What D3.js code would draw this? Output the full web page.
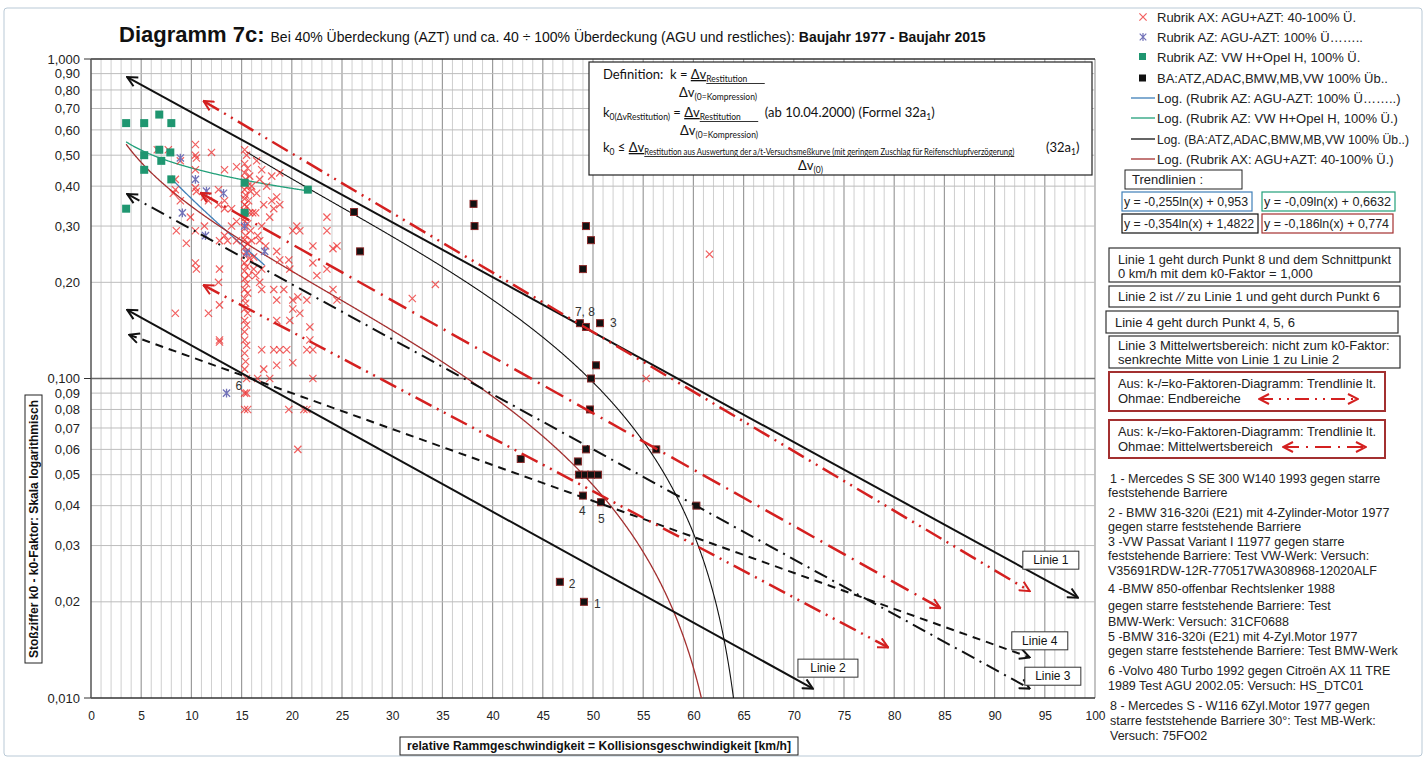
<!DOCTYPE html>
<html>
<head>
<meta charset="utf-8">
<script src="https://cdn.jsdelivr.net/npm/d3@7"></script>
<style>
  body { margin: 0; background: #fff; }
  svg { font-family: Arial, "Liberation Sans", sans-serif; }
</style>
</head>
<body>
<div id="chart"></div>
<script>
// axis values
const xTickVals = [0,5,10,15,20,25,30,35,40,45,50,55,60,65,70,75,80,85,90,95,100];
const yTickVals = [1,0.9,0.8,0.7,0.6,0.5,0.4,0.3,0.2,0.1,0.09,0.08,0.07,0.06,0.05,0.04,0.03,0.02,0.01];
const yTickText = ["1,000","0,90","0,80","0,70","0,60","0,50","0,40","0,30","0,20","0,100","0,09","0,08","0,07","0,06","0,05","0,04","0,03","0,02","0,010"];

// Rubrik AX: AGU+AZT 40-100% (red crosses)
const redX = [
  [15.3,0.52],[15.5,0.50],[15.3,0.47],[15.6,0.455],[15.3,0.44],[15.8,0.43],[15.4,0.42],[15.3,0.41],[15.6,0.40],[15.3,0.39],
  [15.9,0.385],[15.4,0.375],[15.3,0.365],[15.7,0.36],[15.3,0.35],[15.5,0.345],[15.3,0.335],[15.8,0.33],[15.4,0.32],[15.3,0.31],
  [15.6,0.305],[15.3,0.295],[15.9,0.29],[15.4,0.28],[15.3,0.272],[15.6,0.265],[15.3,0.258],[15.5,0.25],[15.3,0.243],[15.8,0.238],
  [15.3,0.23],[15.5,0.224],[15.3,0.217],[15.7,0.21],[15.3,0.205],[15.5,0.198],[15.3,0.19],[15.6,0.185],[15.3,0.178],[15.4,0.172],
  [15.3,0.165],[15.6,0.16],[15.3,0.152],[15.5,0.147],[15.3,0.14],[15.3,0.132],[15.5,0.127],[15.3,0.12],[15.4,0.113],[15.3,0.107],
  [15.5,0.10],[15.3,0.09],[15.5,0.09],[15.3,0.08],[16.0,0.40],[16.1,0.33],[16.0,0.27],[16.2,0.22],
  [6.6,0.52],[7.7,0.52],[8.4,0.42],[8.4,0.39],[8.9,0.48],[10.4,0.54],[10.4,0.50],[10.5,0.49],[10.4,0.45],[12.0,0.51],
  [10.4,0.395],[10.5,0.385],[11.3,0.37],[12.7,0.39],[13.3,0.36],[14.0,0.34],[14.5,0.31],[13.3,0.45],[14.5,0.46],[18.8,0.44],
  [18.5,0.37],[18.0,0.36],[18.2,0.34],[18.8,0.35],[17.8,0.32],[20.5,0.30],[20.8,0.29],[20.1,0.29],[23.5,0.32],[23.5,0.29],
  [22.1,0.26],[24.5,0.26],[24.1,0.255],[18.5,0.25],[18.8,0.235],[19.7,0.235],[19.8,0.22],[22.1,0.23],[23.5,0.22],[22.5,0.21],
  [24.1,0.19],[24.5,0.176],[8.5,0.29],[9.9,0.32],[9.5,0.265],[10.4,0.29],[10.4,0.23],[10.5,0.22],[12.8,0.27],[13.3,0.28],
  [13.6,0.27],[14.0,0.30],[14.5,0.27],[11.3,0.30],[8.2,0.38],[8.9,0.36],[11.7,0.36],[12.7,0.35],[13.3,0.34],
  [16.5,0.48],[17.0,0.45],[16.8,0.42],[17.5,0.40],[18.0,0.43],[16.5,0.38],[17.2,0.35],[16.4,0.33],[17.0,0.30],[16.6,0.28],
  [17.4,0.26],[16.2,0.24],[17.0,0.22],[16.4,0.21],[16.8,0.27],
  [8.4,0.16],[11.7,0.16],[12.8,0.17],[12.8,0.13],[12.7,0.20],[12.8,0.22],[16.8,0.20],[17.0,0.19],[18.2,0.19],[18.5,0.176],
  [19.2,0.19],[20.1,0.176],[20.6,0.18],[21.5,0.176],[20.1,0.165],[18.5,0.152],[19.8,0.152],[20.8,0.16],[21.8,0.145],[17.0,0.123],
  [18.2,0.123],[18.8,0.123],[19.5,0.123],[21.5,0.123],[22.1,0.123],[18.5,0.11],[20.1,0.112],[21.8,0.132],[12.8,0.132],[22.1,0.10],
  [19.7,0.08],[21.5,0.08],[16.6,0.10],[17.8,0.10],[17.2,0.107],[20.6,0.06],[21.2,0.08],[15.6,0.08],
  [34.3,0.197],[32.0,0.178],[55.3,0.10],[61.6,0.245]
];

// Rubrik AZ: AGU-AZT 100% (blue asterisks)
const blueAst = [[8.9,0.49],[10.4,0.42],[11.5,0.386],[13.2,0.38],[9.1,0.33],[11.4,0.28],[15.3,0.30],[17.3,0.25],[15.5,0.247],[13.5,0.09]];

// Rubrik AZ: VW H+Opel H (green squares)
const greenSq = [[3.5,0.63],[5.3,0.63],[6.8,0.67],[8.0,0.63],[6.8,0.52],[7.9,0.51],[5.3,0.50],[7.0,0.48],[5.3,0.45],[8.0,0.42],
  [3.5,0.34],[15.3,0.41],[15.3,0.33],[21.6,0.39]];

// BA:ATZ,ADAC,BMW,MB,VW (black squares)
const blackSq = [[26.2,0.332],[26.8,0.25],[38.1,0.352],[38.2,0.30],[49.3,0.30],[49.8,0.271],[49.0,0.22],[48.7,0.149],[49.3,0.145],
  [50.7,0.149],[50.3,0.110],[49.8,0.100],[49.7,0.080],[49.3,0.060],[42.8,0.056],[48.5,0.055],[48.6,0.050],[49.2,0.050],[49.8,0.050],
  [50.5,0.050],[49.0,0.043],[50.8,0.041],[56.3,0.060],[60.3,0.040],[46.7,0.0231],[49.1,0.020]];

// numbered test points
const ptLabels = ["1","2","3","4","5","6","7, 8"];
const ptLabelAt = [[49.1,0.020],[46.7,0.0231],[50.7,0.149],[49.0,0.043],[50.8,0.041],[15.3,0.10],[48.7,0.149]];

// log trendlines y = a ln(x) + b
const trendNames = ["Log. (Rubrik AZ: AGU-AZT: 100% Ü……..)","Log. (Rubrik AZ: VW H+Opel H, 100% Ü.)","Log. (BA:ATZ,ADAC,BMW,MB,VW  100% Üb..)","Log. (Rubrik AX: AGU+AZT: 40-100% Ü.)"];
const trendA = [-0.255,-0.09,-0.354,-0.186];
const trendB = [0.953,0.6632,1.4822,0.774];
const trendFrom = [8.0,3.5,15.5,3.5];
const trendTo = [17.3,21.6,64.1,60.9];
const trendEq = ["y = -0,255ln(x) + 0,953","y = -0,09ln(x) + 0,6632","y = -0,354ln(x) + 1,4822","y = -0,186ln(x) + 0,774"];

// drawn reference lines (start, end)
const refNames = ["Linie 1","Linie 2","Linie 3","Linie 4","Ohmae oben","Ohmae Mitte","Ohmae unten"];
const refStart = [[3.6,0.878],[3.6,0.164],[3.6,0.378],[3.8,0.137],[11.2,0.739],[10.9,0.381],[11.2,0.196]];
const refEnd = [[98.3,0.0206],[71.9,0.0107],[93.5,0.0107],[93.5,0.0134],[93.5,0.0216],[84.6,0.0191],[79.4,0.0144]];
const refLabelAt = [[95.6,0.027],[73.4,0.0124],[95.8,0.0117],[94.5,0.0151],null,null,null];

const legendNames = ["Rubrik AX: AGU+AZT: 40-100% Ü.","Rubrik AZ: AGU-AZT: 100% Ü……..","Rubrik AZ: VW H+Opel H, 100% Ü.","BA:ATZ,ADAC,BMW,MB,VW 100% Üb.."];

const noteLines = [
  "1 - Mercedes S SE 300 W140 1993 gegen  starre","feststehende Barriere",
  "2 - BMW 316-320i (E21) mit 4-Zylinder-Motor 1977","gegen starre feststehende Barriere",
  "3 -VW Passat Variant I 11977  gegen starre","feststehende Barriere: Test VW-Werk: Versuch:","V35691RDW-12R-770517WA308968-12020ALF",
  "4 -BMW 850-offenbar Rechtslenker 1988","gegen starre feststehende Barriere: Test","BMW-Werk: Versuch: 31CF0688",
  "5 -BMW 316-320i (E21) mit 4-Zyl.Motor 1977","gegen starre feststehende Barriere: Test BMW-Werk",
  "6 -Volvo 480 Turbo 1992 gegen Citroën AX 11 TRE","1989  Test AGU 2002.05: Versuch: HS_DTC01",
  "8 - Mercedes S - W116 6Zyl.Motor 1977 gegen","starre feststehende Barriere 30°: Test MB-Werk:","Versuch: 75FO02"
];
const noteY = [479,493,513,527,542,556,571,589,606,622,637,651,671,686,706,721,736];

const W = 1428, H = 760;
const svg = d3.select("#chart").append("svg").attr("width", W).attr("height", H);

const x = d3.scaleLinear().domain([0, 100]).range([91, 1095]);
const y = d3.scaleLog().domain([0.01, 1]).range([698, 59]);

const RED = "#d42020", DKRED = "#a33030";

// squeeze a text into max width if needed
function fit(sel, max) {
  const w = sel.node().getComputedTextLength();
  if (w > max) sel.attr("textLength", max).attr("lengthAdjust", "spacingAndGlyphs");
  return sel;
}

// outer frame
svg.append("rect").attr("x", 4).attr("y", 8).attr("width", 1418).attr("height", 748)
  .attr("fill", "#fff").attr("stroke", "#b9c9d6").attr("rx", 3);

const defs = svg.append("defs");
defs.append("clipPath").attr("id", "plotClip").append("rect")
  .attr("x", 91).attr("y", 59).attr("width", 1004).attr("height", 639);
[["arrBlack", "#111"], ["arrRed", RED]].forEach(([id, c]) => {
  defs.append("marker").attr("id", id).attr("viewBox", "0 0 12 12")
    .attr("refX", 11).attr("refY", 6).attr("markerWidth", 12).attr("markerHeight", 12)
    .attr("markerUnits", "userSpaceOnUse").attr("orient", "auto-start-reverse")
    .append("path").attr("d", "M1,1 L11,6 L1,11").attr("fill", "none")
    .attr("stroke", c).attr("stroke-width", 2);
});

// grid
const grid = svg.append("g");
grid.selectAll(".vmin").data(d3.range(1, 100).filter(d => d % 5 !== 0)).join("line")
  .attr("x1", d => x(d)).attr("x2", d => x(d)).attr("y1", 59).attr("y2", 698)
  .attr("stroke", "#cfcfcf").attr("stroke-width", 1);
grid.selectAll(".vmaj").data(xTickVals.filter(d => d > 0)).join("line")
  .attr("x1", d => x(d)).attr("x2", d => x(d)).attr("y1", 59).attr("y2", 698)
  .attr("stroke", "#9c9c9c").attr("stroke-width", 1.2);
grid.selectAll(".hmin").data(yTickVals.filter(d => d !== 1 && d !== 0.1 && d !== 0.01)).join("line")
  .attr("x1", 91).attr("x2", 1095).attr("y1", d => y(d)).attr("y2", d => y(d))
  .attr("stroke", "#bdbdbd").attr("stroke-width", 1);
grid.append("line").attr("x1", 91).attr("x2", 1095).attr("y1", y(0.1)).attr("y2", y(0.1))
  .attr("stroke", "#666").attr("stroke-width", 1.5);
grid.append("line").attr("x1", 91).attr("x2", 1095).attr("y1", y(1)).attr("y2", y(1))
  .attr("stroke", "#333").attr("stroke-width", 1.5);
grid.append("line").attr("x1", 91).attr("x2", 1095).attr("y1", y(0.01)).attr("y2", y(0.01))
  .attr("stroke", "#333").attr("stroke-width", 1.5);
grid.append("line").attr("x1", 91).attr("x2", 91).attr("y1", 59).attr("y2", 698)
  .attr("stroke", "#555").attr("stroke-width", 1.5);
[1, 0.1, 0.01].forEach(v => grid.append("line").attr("x1", 84).attr("x2", 91)
  .attr("y1", y(v)).attr("y2", y(v)).attr("stroke", "#333"));

// axes (labels only)
const yAxis = svg.append("g").attr("transform", "translate(91,0)")
  .call(d3.axisLeft(y).tickValues(yTickVals).tickFormat((d, i) => yTickText[i]).tickSize(0).tickPadding(11));
yAxis.select(".domain").remove();
yAxis.selectAll("text").attr("font-size", 13).attr("fill", "#222").attr("font-family", "Arial, 'Liberation Sans', sans-serif");
const xAxis = svg.append("g").attr("transform", "translate(0,698)")
  .call(d3.axisBottom(x).tickValues(xTickVals).tickSize(0).tickPadding(13));
xAxis.select(".domain").remove();
xAxis.selectAll("text").attr("font-size", 12).attr("fill", "#222").attr("font-family", "Arial, 'Liberation Sans', sans-serif");

// axis titles
svg.append("rect").attr("x", 25).attr("y", 395).attr("width", 17).attr("height", 268)
  .attr("fill", "#fff").attr("stroke", "#222");
svg.append("text").attr("transform", "translate(38,529) rotate(-90)").attr("text-anchor", "middle")
  .attr("font-size", 12).attr("font-weight", "bold").attr("fill", "#111")
  .attr("textLength", 258).attr("lengthAdjust", "spacingAndGlyphs")
  .text("Stoßziffer k0 - k0-Faktor: Skala logarithmisch");
svg.append("rect").attr("x", 400).attr("y", 737).attr("width", 398).attr("height", 18)
  .attr("fill", "#fff").attr("stroke", "#222");
svg.append("text").attr("x", 599).attr("y", 750).attr("text-anchor", "middle")
  .attr("font-size", 12).attr("font-weight", "bold").attr("fill", "#111")
  .attr("textLength", 384).attr("lengthAdjust", "spacingAndGlyphs")
  .text("relative Rammgeschwindigkeit = Kollisionsgeschwindigkeit  [km/h]");

// title
const title = svg.append("text").attr("x", 119).attr("y", 42).attr("fill", "#111");
title.append("tspan").attr("font-size", 22).attr("font-weight", "bold").text("Diagramm 7c:");
title.append("tspan").attr("font-size", 14).attr("dx", 6)
  .text("Bei 40% Überdeckung (AZT) und ca. 40 ÷ 100% Überdeckung (AGU und restliches): ");
title.append("tspan").attr("font-size", 14).attr("font-weight", "bold").text("Baujahr 1977 - Baujahr 2015");

// plot layer
const plot = svg.append("g").attr("clip-path", "url(#plotClip)");

// trendlines
const trendColors = ["#3f7fb8", "#22a07a", "#111", DKRED];
const line = d3.line().x(d => x(d[0])).y(d => y(Math.max(d[1], 0.005)));
trendA.forEach((a, i) => {
  const xs = d3.range(trendFrom[i], trendTo[i], 0.05).concat([trendTo[i]]);
  const pts = xs.map(v => [v, a * Math.log(v) + trendB[i]]).filter(p => p[1] > 0.004);
  plot.append("path").attr("d", line(pts)).attr("fill", "none")
    .attr("stroke", trendColors[i]).attr("stroke-width", i === 2 ? 1.1 : 1.3);
});

// reference lines with arrows
const refStyle = [
  { c: "#111", w: 2, dash: null, m: "arrBlack" },
  { c: "#111", w: 2, dash: null, m: "arrBlack" },
  { c: "#111", w: 2, dash: "14,6,2,6", m: "arrBlack" },
  { c: "#111", w: 2, dash: "8,6", m: "arrBlack" },
  { c: RED, w: 2.5, dash: "18,6,2,6,2,6", m: "arrRed" },
  { c: RED, w: 2.5, dash: "20,7,2,7", m: "arrRed" },
  { c: RED, w: 2.5, dash: "18,6,2,6,2,6", m: "arrRed" }
];
refStart.forEach((s, i) => {
  const st = refStyle[i];
  svg.append("line").attr("x1", x(s[0])).attr("y1", y(s[1]))
    .attr("x2", x(refEnd[i][0])).attr("y2", y(refEnd[i][1]))
    .attr("stroke", st.c).attr("stroke-width", st.w).attr("stroke-dasharray", st.dash)
    .attr("marker-start", `url(#${st.m})`).attr("marker-end", `url(#${st.m})`);
});

// line label boxes
refNames.forEach((n, i) => {
  const at = refLabelAt[i];
  if (!at) return;
  const cx = x(at[0]), cy = y(at[1]), w = i === 1 ? 60 : 56;
  svg.append("rect").attr("x", cx - w / 2).attr("y", cy - 9).attr("width", w).attr("height", 18)
    .attr("fill", "#fff").attr("stroke", "#333");
  svg.append("text").attr("x", cx).attr("y", cy + 4).attr("text-anchor", "middle")
    .attr("font-size", 12).attr("fill", "#111").text(n);
});

// point symbols
const crossPath = s => `M${-s},${-s}L${s},${s}M${-s},${s}L${s},${-s}`;
const astPath = s => `M${-s},${-s}L${s},${s}M${-s},${s}L${s},${-s}M0,${-s * 1.2}L0,${s * 1.2}`;

plot.append("g").selectAll("path").data(redX).join("path")
  .attr("transform", d => `translate(${x(d[0])},${y(d[1])})`)
  .attr("d", crossPath(3.6)).attr("stroke", "#ee2a2a").attr("stroke-opacity", 0.75)
  .attr("stroke-width", 1.2).attr("fill", "none");
plot.append("g").selectAll("path").data(blueAst).join("path")
  .attr("transform", d => `translate(${x(d[0])},${y(d[1])})`)
  .attr("d", astPath(3.6)).attr("stroke", "#7272b8").attr("stroke-width", 1.3).attr("fill", "none");
plot.append("g").selectAll("rect").data(greenSq).join("rect")
  .attr("x", d => x(d[0]) - 4).attr("y", d => y(d[1]) - 4).attr("width", 8).attr("height", 8)
  .attr("fill", "#1f9670");
plot.append("g").selectAll("rect").data(blackSq).join("rect")
  .attr("x", d => x(d[0]) - 3.5).attr("y", d => y(d[1]) - 3.5).attr("width", 7).attr("height", 7)
  .attr("fill", "#111").attr("stroke", "#8a2a2a").attr("stroke-width", 1);

// point numbers
const ptOff = [[10, 6], [9, 6], [10, 4], [-4, 19], [-3, 21], [-9, 11], [-5, -7]];
svg.append("g").selectAll("text").data(ptLabels).join("text")
  .attr("x", (d, i) => x(ptLabelAt[i][0]) + ptOff[i][0])
  .attr("y", (d, i) => y(ptLabelAt[i][1]) + ptOff[i][1])
  .attr("font-size", 12).attr("fill", "#333").text(d => d);

// definition box
const def = svg.append("g").attr("font-family", "Lato, 'Open Sans', sans-serif").attr("fill", "#111");
def.append("rect").attr("x", 589).attr("y", 62).attr("width", 503).attr("height", 113)
  .attr("fill", "#fff").attr("stroke", "#222").attr("stroke-width", 1.2);
const NB = "\u00a0";
// parts: [text, kind] kind: n normal, s sub, u underlined normal, us underlined sub
function formula(xx, yy, parts) {
  const t = def.append("text").attr("x", xx).attr("y", yy).attr("font-size", 13);
  let low = false;
  parts.forEach(([txt, kind, len]) => {
    const sub = kind === "s" || kind === "us";
    const sp = t.append("tspan").text(txt);
    if (sub && !low) sp.attr("dy", 3);
    if (!sub && low) sp.attr("dy", -3);
    low = sub;
    if (sub) sp.attr("font-size", 8.5);
    if (kind === "u" || kind === "us") sp.attr("text-decoration", "underline");
    if (len) sp.attr("textLength", len).attr("lengthAdjust", "spacingAndGlyphs");
  });
  return t;
}
formula(603, 79, [["Definition:" + NB + NB + "k = ", "n"], ["Δv", "u"], ["Restitution" + NB.repeat(8), "us"]]);
formula(679, 97, [["Δv", "n"], ["(0=Kompression)", "s"]]);
formula(603, 117, [["k", "n"], ["0(ΔvRestitution)", "s"], [NB + "= ", "n"], ["Δv", "u"], ["Restitution" + NB.repeat(8), "us"],
  [NB + NB + "(ab 10.04.2000) (Formel 32a", "n"], ["1", "s"], [")", "n"]]);
formula(680, 135, [["Δv", "n"], ["(0=Kompression)", "s"]]);
formula(603, 152, [["k", "n"], ["0", "s"], [" ≤ ", "n"], ["Δv", "u"],
  ["Restitution aus Auswertung der a/t-Versuchsmeßkurve (mit geringem Zuschlag für Reifenschlupfverzögerung)", "us", 370]]);
formula(1046, 152, [["(32a", "n"], ["1", "s"], [")", "n"]]);
formula(798, 170, [["Δv", "n"], ["(0)", "s"]]);

// legend
const lg = svg.append("g").attr("font-size", 13).attr("fill", "#222");
const lgY = [17, 37, 57, 78, 98, 118, 139, 159];
lg.append("path").attr("transform", `translate(1143,${lgY[0]})`).attr("d", crossPath(3.6))
  .attr("stroke", "#ee2a2a").attr("stroke-opacity", 0.75).attr("stroke-width", 1.2).attr("fill", "none");
lg.append("path").attr("transform", `translate(1143,${lgY[1]})`).attr("d", astPath(3.3))
  .attr("stroke", "#7272b8").attr("stroke-width", 1.2).attr("fill", "none");
lg.append("rect").attr("x", 1139).attr("y", lgY[2] - 4).attr("width", 7).attr("height", 7).attr("fill", "#1f9670");
lg.append("rect").attr("x", 1139).attr("y", lgY[3] - 3.5).attr("width", 7).attr("height", 7).attr("fill", "#111");
legendNames.forEach((n, i) => fit(lg.append("text").attr("x", 1157).attr("y", lgY[i] + 5).text(n), 250));
trendNames.forEach((n, i) => {
  lg.append("line").attr("x1", 1131).attr("x2", 1155).attr("y1", lgY[4 + i]).attr("y2", lgY[4 + i])
    .attr("stroke", trendColors[i]).attr("stroke-width", 1.3);
  fit(lg.append("text").attr("x", 1157).attr("y", lgY[4 + i] + 5).text(n), 252);
});

// trendline equation boxes
const tb = svg.append("g").attr("font-size", 13).attr("fill", "#222");
tb.append("rect").attr("x", 1125).attr("y", 170).attr("width", 117).attr("height", 19).attr("fill", "#fff").attr("stroke", "#222");
tb.append("text").attr("x", 1132).attr("y", 184).text("Trendlinien :");
const eqBox = [[1122, 192, 130], [1262, 192, 133], [1122, 214, 136], [1262, 214, 131]];
trendEq.forEach((e, i) => {
  const [bx, by, bw] = eqBox[i];
  tb.append("rect").attr("x", bx).attr("y", by).attr("width", bw).attr("height", 19)
    .attr("fill", "#fff").attr("stroke", trendColors[i]).attr("stroke-width", 1.2);
  fit(tb.append("text").attr("x", bx + 2).attr("y", by + 14).text(e), bw - 6);
});

// explanation boxes
const eb = svg.append("g").attr("font-size", 13).attr("fill", "#222");
function textBox(bx, by, bw, bh, lines, ly, stroke, sw) {
  eb.append("rect").attr("x", bx).attr("y", by).attr("width", bw).attr("height", bh)
    .attr("fill", "#fff").attr("stroke", stroke).attr("stroke-width", sw);
  lines.forEach((l, i) => fit(eb.append("text").attr("x", bx + 9).attr("y", ly[i]).text(l), bw - 18));
}
textBox(1109, 248, 291, 34, ["Linie 1 geht durch Punkt 8 und dem Schnittpunkt", "0 km/h mit  dem k0-Faktor = 1,000"], [264, 278], "#333", 1.2);
eb.append("rect").attr("x", 1109).attr("y", 286).attr("width", 291).attr("height", 21).attr("fill", "#fff").attr("stroke", "#333").attr("stroke-width", 1.2);
const l2 = eb.append("text").attr("x", 1118).attr("y", 301);
l2.append("tspan").text("Linie 2 ist ");
l2.append("tspan").attr("font-style", "italic").text("//");
l2.append("tspan").text("  zu Linie 1 und geht durch Punkt 6");
fit(l2, 262);
textBox(1106, 311, 292, 22, ["Linie 4 geht durch Punkt 4, 5, 6"], [327], "#333", 1.2);
textBox(1109, 336, 291, 32, ["Linie 3 Mittelwertsbereich: nicht zum k0-Faktor:", "senkrechte Mitte von Linie 1 zu Linie 2"], [350, 364], "#333", 1.2);
textBox(1109, 372, 276, 39, ["Aus: k-/=ko-Faktoren-Diagramm: Trendlinie lt.", "Ohmae: Endbereiche"], [388, 403], DKRED, 2);
textBox(1109, 420, 276, 38, ["Aus: k-/=ko-Faktoren-Diagramm: Trendlinie lt.", "Ohmae: Mittelwertsbereich"], [436, 451], DKRED, 2);
eb.append("line").attr("x1", 1259).attr("x2", 1358).attr("y1", 399).attr("y2", 399)
  .attr("stroke", RED).attr("stroke-width", 2).attr("stroke-dasharray", "14,6,2,6,2,6")
  .attr("marker-start", "url(#arrRed)").attr("marker-end", "url(#arrRed)");
eb.append("line").attr("x1", 1283).attr("x2", 1366).attr("y1", 447).attr("y2", 447)
  .attr("stroke", RED).attr("stroke-width", 2).attr("stroke-dasharray", "16,7,2,7")
  .attr("marker-start", "url(#arrRed)").attr("marker-end", "url(#arrRed)");

// notes
const nt = svg.append("g").attr("font-size", 12.5).attr("fill", "#222");
noteLines.forEach((l, i) => fit(nt.append("text").attr("x", i === 0 || i >= 14 ? 1110 : 1108)
  .attr("y", noteY[i] + 4).text(l), 302));
</script>
</body>
</html>
